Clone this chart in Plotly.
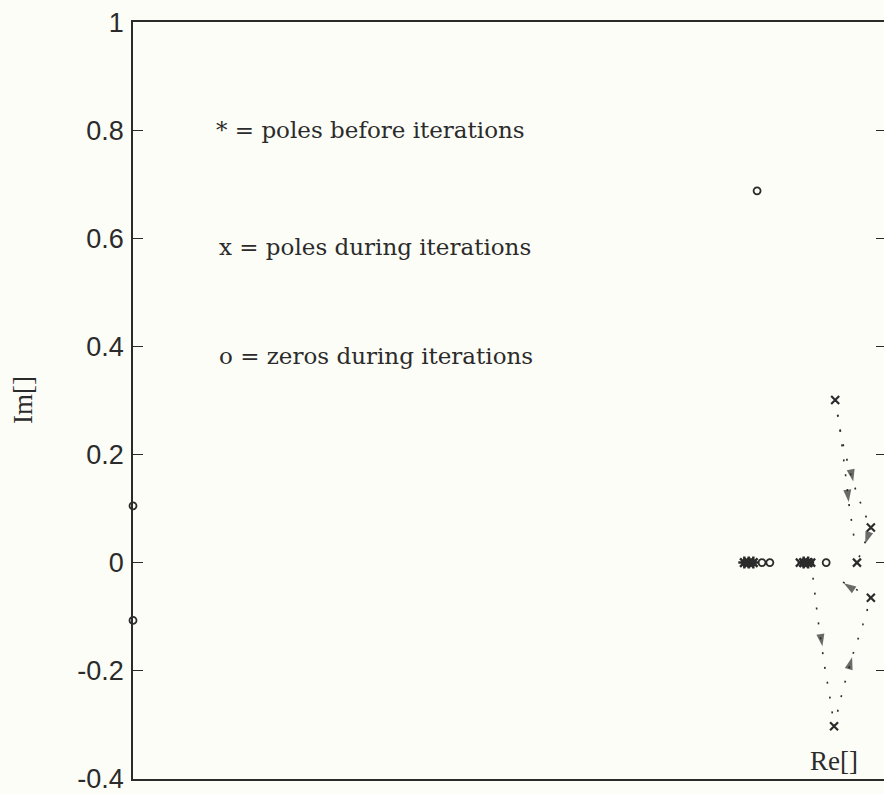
import plotly.graph_objects as go

# ---- data ----
y_ticks = [1, 0.8, 0.6, 0.4, 0.2, 0, -0.2, -0.4]
y_tick_labels = ["1", "0.8", "0.6", "0.4", "0.2", "0", "-0.2", "-0.4"]

# poles before iterations (*)
poles_before_re = [0.628, 0.640, 0.652, 0.786, 0.798]
poles_before_im = [0.0, 0.0, 0.0, 0.0, 0.0]

# poles during iterations (x)
poles_during_re = [0.870, 0.965, 0.965, 0.867, 0.928, 0.776, 0.786, 0.796, 0.806]
poles_during_im = [0.301, 0.065, -0.065, -0.303, 0.0, 0.0, 0.0, 0.0, 0.0]

# zeros during iterations (o)
zeros_re = [0.675, 0.696, 0.846, 0.662, -1.0, -1.0]
zeros_im = [0.0, 0.0, 0.0, 0.688, 0.105, -0.107]

# pole trajectories (dotted)
path_a_re = [0.870, 0.883, 0.896, 0.907, 0.923]
path_a_im = [0.301, 0.245, 0.172, 0.107, 0.033]
path_b_re = [0.870, 0.888, 0.915, 0.944, 0.965]
path_b_im = [0.301, 0.227, 0.153, 0.098, 0.065]
path_c_re = [0.965, 0.928]
path_c_im = [0.065, 0.0]
path_d_re = [0.811, 0.824, 0.843, 0.859, 0.867]
path_d_im = [-0.028, -0.105, -0.197, -0.262, -0.303]
path_e_re = [0.867, 0.891, 0.917, 0.944, 0.965]
path_e_im = [-0.303, -0.234, -0.170, -0.114, -0.065]
path_f_re = [0.965, 0.891, 0.870]
path_f_im = [-0.065, -0.037, -0.028]

# arrowheads: (tail point, head point)
arrow_tail_re = [0.896, 0.903, 0.965, 0.824, 0.891, 0.930]
arrow_tail_im = [0.172, 0.200, 0.065, -0.105, -0.234, -0.055]
arrow_head_re = [0.906, 0.918, 0.950, 0.836, 0.915, 0.893]
arrow_head_im = [0.112, 0.150, 0.035, -0.155, -0.175, -0.038]

legend_lines = ["* = poles before iterations",
                "x = poles during iterations",
                "o = zeros during iterations"]
legend_re = [-0.785, -0.775, -0.775]
legend_im = [0.80, 0.585, 0.382]

INK = "#2b2b2b"
BG = "#fdfdf7"
SERIF = "DejaVu Serif"
TSERIF = "Liberation Serif"
SANS = "Liberation Sans"

fig = go.Figure()

for px, py in [(path_a_re, path_a_im), (path_b_re, path_b_im), (path_c_re, path_c_im),
               (path_d_re, path_d_im), (path_e_re, path_e_im), (path_f_re, path_f_im)]:
    fig.add_trace(go.Scatter(x=px, y=py, mode="lines",
                             line=dict(color=INK, width=1.6, dash="2px,13px"),
                             hoverinfo="skip", showlegend=False))

for i in range(len(arrow_head_re)):
    fig.add_trace(go.Scatter(x=[arrow_tail_re[i], arrow_head_re[i]],
                             y=[arrow_tail_im[i], arrow_head_im[i]],
                             mode="markers",
                             marker=dict(symbol="arrow", size=[0, 13], color=INK,
                                         angleref="previous", line=dict(width=0)),
                             hoverinfo="skip", showlegend=False))

fig.add_trace(go.Scatter(x=poles_before_re, y=poles_before_im, mode="markers",
                         marker=dict(symbol="asterisk-open", size=10, color=INK,
                                     line=dict(color=INK, width=2.5)),
                         showlegend=False))
fig.add_trace(go.Scatter(x=poles_during_re, y=poles_during_im, mode="markers",
                         marker=dict(symbol="x-thin-open", size=8, color=INK,
                                     line=dict(color=INK, width=2.2)),
                         showlegend=False))
fig.add_trace(go.Scatter(x=zeros_re, y=zeros_im, mode="markers",
                         marker=dict(symbol="circle-open", size=7, color=INK,
                                     line=dict(color=INK, width=1.8)),
                         cliponaxis=False, showlegend=False))

# invisible trace to carry the right-hand tick axis
fig.add_trace(go.Scatter(x=[0], y=[0], yaxis="y2", mode="markers",
                         marker=dict(size=0, opacity=0), hoverinfo="skip",
                         showlegend=False))

for txt, lx, ly in zip(legend_lines, legend_re, legend_im):
    fig.add_annotation(x=lx, y=ly, text=txt, showarrow=False, xanchor="left",
                       yanchor="middle", font=dict(family=SERIF, size=23, color=INK))

fig.add_annotation(x=0.868, y=-0.368, text="Re[]", showarrow=False,
                   font=dict(family=TSERIF, size=27, color=INK))
fig.add_annotation(xref="paper", yref="paper", x=-0.147, y=0.50, text="Im[]",
                   textangle=-90, showarrow=False, xanchor="center", yanchor="middle",
                   font=dict(family=TSERIF, size=27, color=INK))

fig.update_layout(
    width=884, height=794,
    margin=dict(l=133, r=0, t=22, b=15),
    paper_bgcolor=BG, plot_bgcolor=BG,
    showlegend=False,
    xaxis=dict(range=[-1, 1], showgrid=False, zeroline=False, showticklabels=False,
               ticks="", showline=True, linecolor=INK, linewidth=1.5, mirror=True),
    yaxis=dict(range=[-0.4005, 1.0005], showgrid=False, zeroline=False,
               tickvals=y_ticks, ticktext=y_tick_labels,
               ticks="inside", ticklen=10, tickwidth=1.3, tickcolor=INK,
               tickfont=dict(family=SANS, size=27, color=INK),
               ticklabelstandoff=2, ticklabeloverflow="allow",
               showline=True, linecolor=INK, linewidth=1.5, mirror=False),
    yaxis2=dict(range=[-0.4005, 1.0005], overlaying="y", side="right", showgrid=False,
                zeroline=False, tickvals=y_ticks, showticklabels=False,
                ticks="inside", ticklen=8, tickwidth=1.3, tickcolor=INK,
                showline=False),
)

fig.write_html("out.html", config={"displayModeBar": False},
               post_script="document.body.style.margin='0';document.body.style.background='%s';" % BG)
